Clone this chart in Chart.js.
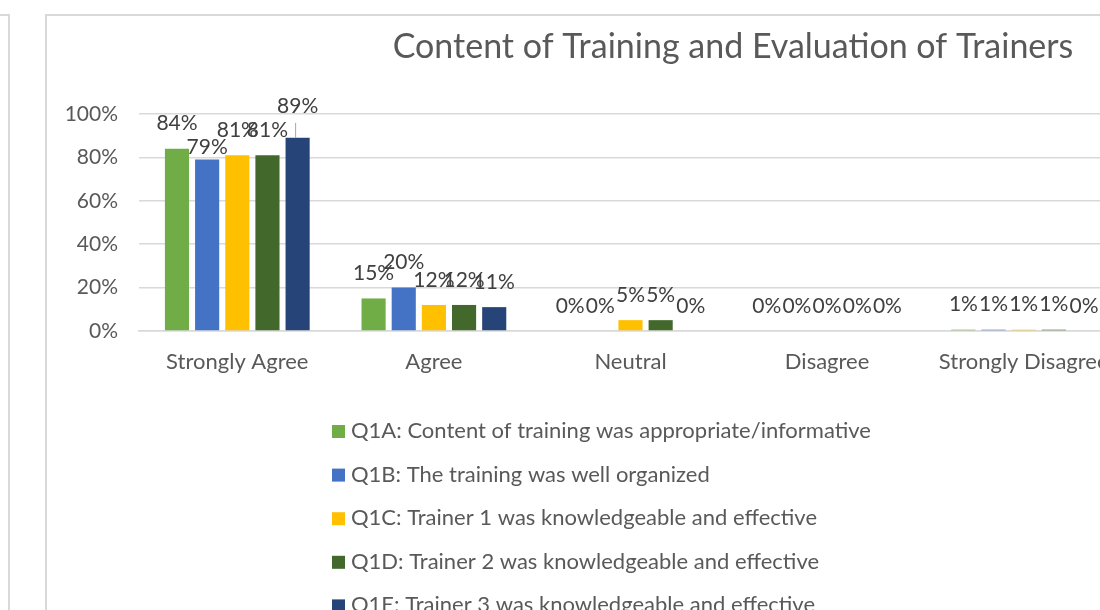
<!DOCTYPE html>
<html lang="en">

<head>
    <meta charset="UTF-8">
    <title>Content of Training and Evaluation of Trainers</title>
    <script src="https://cdn.jsdelivr.net/npm/chart.js"></script>
    <style>
        body {
            margin: 0;
            width: 1100px;
            height: 610px;
            overflow: hidden;
            background: #fff;
            position: relative;
        }

        #painelEsq {
            position: absolute;
            left: -50px;
            top: 14px;
            width: 56px;
            height: 700px;
            border: 2px solid #d9d9d9;
        }

        #painel {
            position: absolute;
            left: 45px;
            top: 14px;
            width: 1372px;
            height: 700px;
            border: 2px solid #d9d9d9;
        }

        #caixaGrafico {
            position: absolute;
            left: 0;
            top: 0;
            width: 1372px;
            height: 660px;
        }
    </style>
</head>

<body>
    <div id="painelEsq"></div>
    <div id="painel">
        <div id="caixaGrafico">
            <canvas id="grafico"></canvas>
        </div>
    </div>

    <script>
        // categorias e valores (em %)
        const categorias = ['Strongly Agree', 'Agree', 'Neutral', 'Disagree', 'Strongly Disagree'];
        const q1a = [84, 15, 0, 0, 0.6];
        const q1b = [79, 20, 0, 0, 0.6];
        const q1c = [81, 12, 5, 0, 0.6];
        const q1d = [81, 12, 5, 0, 0.6];
        const q1e = [89, 11, 0, 0, 0];
        const nomesSeries = [
            'Q1A: Content of training was appropriate/informative',
            'Q1B: The training was well organized',
            'Q1C: Trainer 1 was knowledgeable and effective',
            'Q1D: Trainer 2 was knowledgeable and effective',
            'Q1E: Trainer 3 was knowledgeable and effective'
        ];
        const cores = ['#70AD47', '#4472C4', '#FFC000', '#43682B', '#264478'];
        const tituloGrafico = 'Content of Training and Evaluation of Trainers';

        const fonte = 'Lato, "Open Sans", sans-serif';
        const cinzaTexto = '#595959';

        // rotulos em cima das barras (como o Excel faz)
        const ajusteRotulo = { '1:0': 13, '4:0': -7 }; // alguns rotulos foram movidos no original
        const pluginRotulos = {
            id: 'rotulos',
            afterDatasetsDraw(chart) {
                const ctx = chart.ctx;
                ctx.save();
                ctx.font = '21px ' + fonte;
                ctx.fillStyle = '#404040';
                ctx.textAlign = 'center';
                ctx.textBaseline = 'middle';
                chart.data.datasets.forEach((ds, i) => {
                    chart.getDatasetMeta(i).data.forEach((barra, j) => {
                        const ajuste = ajusteRotulo[i + ':' + j] || 0;
                        const y = barra.y - 25 + ajuste;
                        if (ajuste < 0) {
                            // linha de chamada
                            ctx.strokeStyle = '#a6a6a6';
                            ctx.lineWidth = 1;
                            ctx.beginPath();
                            ctx.moveTo(barra.x - 2, barra.y);
                            ctx.lineTo(barra.x - 2, barra.y - 15);
                            ctx.stroke();
                        }
                        ctx.fillText(Math.round(ds.data[j]) + '%', barra.x, y);
                    });
                });
                ctx.restore();
            }
        };

        // titulo e legenda desenhados a mao
        const pluginTituloLegenda = {
            id: 'tituloLegenda',
            afterDraw(chart) {
                const ctx = chart.ctx;
                ctx.save();
                ctx.fillStyle = cinzaTexto;
                ctx.textBaseline = 'middle';
                ctx.textAlign = 'center';
                ctx.font = '34px ' + fonte;
                ctx.fillText(tituloGrafico, chart.width / 2, 31);

                ctx.textAlign = 'left';
                ctx.font = '22px ' + fonte;
                const base = chart.chartArea.bottom + 100;
                chart.data.datasets.forEach((ds, i) => {
                    const y = base + i * 43.6;
                    ctx.fillStyle = ds.backgroundColor;
                    ctx.fillRect(285, y - 6, 13, 13);
                    ctx.fillStyle = cinzaTexto;
                    ctx.fillText(ds.label, 304, y);
                });
                ctx.restore();
            }
        };

        const series = [q1a, q1b, q1c, q1d, q1e];
        const ctx = document.getElementById('grafico');
        let grafico = new Chart(ctx, {
            type: 'bar',
            data: {
                labels: categorias,
                datasets: series.map((valores, i) => ({
                    label: nomesSeries[i],
                    data: valores,
                    backgroundColor: cores[i],
                    borderWidth: 0,
                    barPercentage: 0.8,
                    categoryPercentage: 0.767
                }))
            },
            options: {
                responsive: true,
                maintainAspectRatio: false,
                animation: false,
                layout: {
                    padding: { top: 98, left: 0, right: 297, bottom: 295 }
                },
                plugins: {
                    legend: { display: false },
                    title: { display: false },
                    tooltip: { enabled: false }
                },
                scales: {
                    x: {
                        grid: { display: false, drawTicks: false },
                        border: { display: true, color: '#d9d9d9', width: 1.5 },
                        ticks: {
                            color: cinzaTexto,
                            font: { family: fonte, size: 22 },
                            padding: 18,
                            maxRotation: 0,
                            autoSkip: false
                        },
                        afterFit(scale) { scale.height = 50; }
                    },
                    y: {
                        min: 0,
                        max: 100,
                        grid: { color: '#d9d9d9', lineWidth: 1.5, drawTicks: false },
                        border: { display: false },
                        ticks: {
                            stepSize: 20,
                            color: cinzaTexto,
                            font: { family: fonte, size: 21 },
                            padding: 21,
                            callback: (v) => v + '%'
                        },
                        afterFit(scale) { scale.width = 92; }
                    }
                }
            },
            plugins: [pluginRotulos, pluginTituloLegenda]
        });
    </script>
</body>

</html>
